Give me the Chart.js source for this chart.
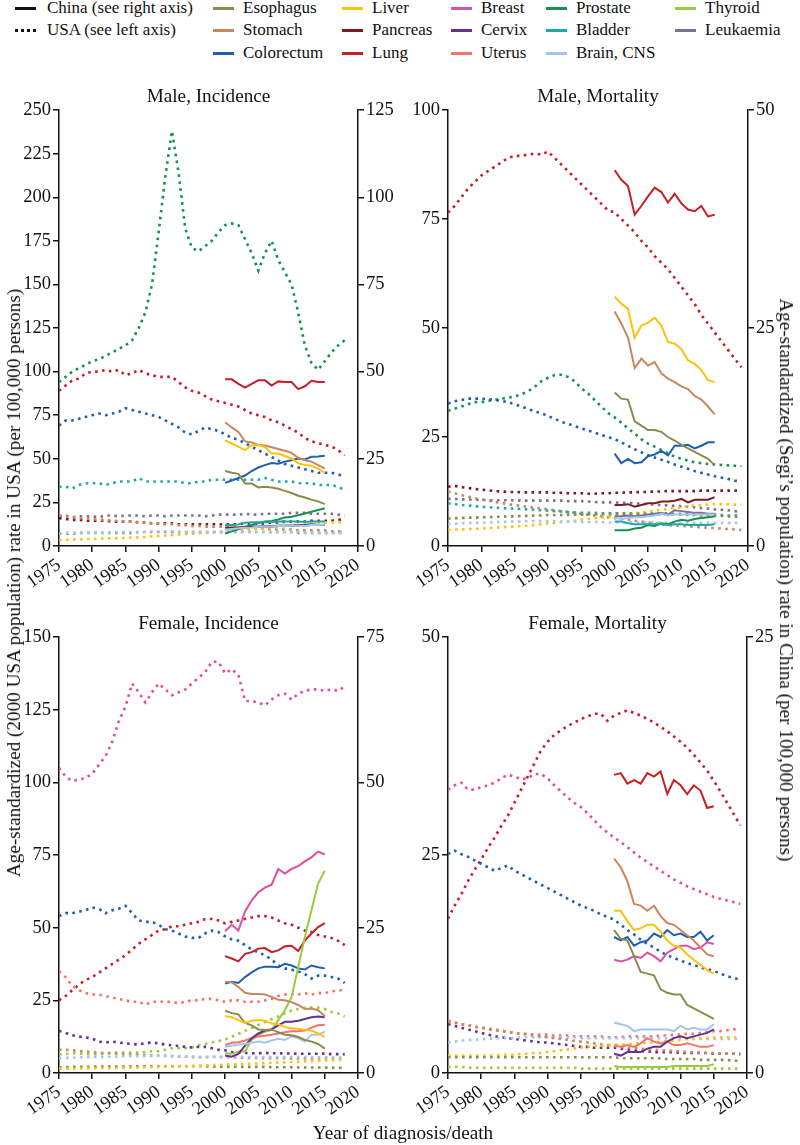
<!DOCTYPE html>
<html>
<head>
<meta charset="utf-8">
<title>Cancer incidence and mortality, China vs USA</title>
<script src="https://cdn.jsdelivr.net/npm/chart.js@4.4.0/dist/chart.umd.min.js"></script>
<style>
  body { margin: 0; background: #fff; }
  #page { position: relative; width: 800px; height: 1145px; overflow: hidden; color: #111; }
  #page canvas { position: absolute; }
  .txt { position: absolute; white-space: nowrap; line-height: 20px; }
  .swatch { position: absolute; height: 3px; width: 21px; }
</style>
</head>
<body>
<div id="page"></div>
<script>
// Year axes
const usaIncYears = [1975, 1976, 1977, 1978, 1979, 1980, 1981, 1982, 1983, 1984, 1985, 1986, 1987, 1988, 1989, 1990, 1991, 1992, 1993, 1994, 1995, 1996, 1997, 1998, 1999, 2000, 2001, 2002, 2003, 2004, 2005, 2006, 2007, 2008, 2009, 2010, 2011, 2012, 2013, 2014, 2015, 2016, 2017, 2018];
const usaMortYears = [1975, 1976, 1977, 1978, 1979, 1980, 1981, 1982, 1983, 1984, 1985, 1986, 1987, 1988, 1989, 1990, 1991, 1992, 1993, 1994, 1995, 1996, 1997, 1998, 1999, 2000, 2001, 2002, 2003, 2004, 2005, 2006, 2007, 2008, 2009, 2010, 2011, 2012, 2013, 2014, 2015, 2016, 2017, 2018, 2019];
const chinaYears = [2000, 2001, 2002, 2003, 2004, 2005, 2006, 2007, 2008, 2009, 2010, 2011, 2012, 2013, 2014, 2015];
const xTicks = [1975, 1980, 1985, 1990, 1995, 2000, 2005, 2010, 2015, 2020];

// ---- Male incidence, USA (left axis)
const maleIncUsaProstate = [94, 97, 100, 102, 104, 106, 107, 109, 111, 113, 115, 118, 125, 134, 150, 180, 212, 238, 214, 182, 171, 169, 172, 175, 180, 184, 185, 184, 176, 168, 158, 168, 175, 164, 157, 150, 134, 115, 105, 101, 106, 111, 115, 118];
const maleIncUsaLung = [89, 92, 95, 96, 99, 100, 100, 101, 100, 101, 98, 99, 101, 99, 98, 97, 97, 97, 94, 91, 89, 88, 86, 84, 83, 82, 81, 80, 78, 76, 75, 74, 72, 71, 69, 67, 65, 62, 60, 59, 58, 57, 55, 52];
const maleIncUsaColorectum = [69, 72, 72, 73, 74, 75, 76, 75, 76, 77, 79, 78, 77, 76, 75, 74, 72, 70, 68, 65, 64, 66, 68, 67, 66, 64, 62, 61, 59, 57, 55, 53, 51, 49, 47, 46, 45, 44, 43, 42, 42, 42, 41, 40];
const maleIncUsaBladder = [34, 34, 33, 35, 36, 36, 36, 35, 36, 37, 37, 37, 39, 37, 37, 37, 37, 37, 37, 36, 36, 37, 37, 38, 38, 38, 38, 38, 38, 38, 38, 39, 38, 37, 37, 37, 36, 36, 36, 35, 35, 35, 34, 32];
const maleIncUsaLeukaemia = [17, 17.5, 16.5, 17, 17, 17, 16.5, 17.5, 17.5, 17, 17.5, 17.5, 17.5, 17, 17.5, 17.5, 17, 17.5, 17.5, 17.5, 17.5, 17.5, 17, 17.5, 18, 18, 18, 18, 18.5, 18, 18, 18.5, 18.5, 18.5, 18.5, 19, 19, 19, 18.5, 18.5, 18.5, 18.5, 18, 17.5];
const maleIncUsaPancreas = [16, 15.5, 15, 15, 14.5, 14.5, 14.5, 14.5, 14, 14, 14, 14, 13.5, 13.5, 13, 13, 13, 13, 12.5, 12.5, 12.5, 12.5, 12.5, 12.5, 12.5, 12.5, 12.5, 12.5, 13, 13, 13, 13, 13.5, 13.5, 14, 14, 14, 14, 14.5, 14.5, 14.5, 14.5, 15, 15.5];
const maleIncUsaStomach = [17.5, 17, 16.5, 16, 16, 15.5, 15, 15, 14.5, 14.5, 14, 14, 13.5, 13.5, 13, 13, 12.5, 12.5, 12, 12, 11.5, 11.5, 11, 11, 11, 11, 10.5, 10.5, 10.5, 10, 10, 10, 9.5, 9.5, 9.5, 9.5, 9, 9, 9, 9, 9, 8.5, 8.5, 8.5];
const maleIncUsaEsophagus = [7, 7, 7, 7.5, 7.5, 7.5, 7.5, 7.5, 7.5, 7.5, 7.5, 7.5, 8, 8, 8, 8, 8, 8, 8, 8, 8, 8, 8, 8, 8, 8, 8, 8, 8, 8, 8, 8, 8, 8, 8, 8, 7.5, 7.5, 7.5, 7.5, 7.5, 7.5, 7.5, 7.5];
const maleIncUsaBrain = [7, 7.5, 7.5, 7.5, 7.5, 7.5, 7.5, 7.5, 8, 8, 8, 8, 8, 8, 8.5, 8.5, 8.5, 8.5, 8, 8, 8, 8, 8, 8, 8, 8, 8, 8, 8, 8, 8, 8, 8, 8, 8, 8, 8, 7.5, 7.5, 7.5, 7.5, 7.5, 7.5, 7.5];
const maleIncUsaLiver = [3.5, 3.5, 3.8, 3.8, 4, 4, 4.2, 4.3, 4.5, 4.5, 4.6, 4.8, 5, 5.2, 5.5, 5.7, 6, 6.3, 6.5, 6.8, 7, 7.3, 7.5, 7.8, 8, 8.3, 8.6, 9, 9.3, 9.6, 10, 10.3, 10.6, 11, 11.3, 11.7, 12, 12.4, 12.8, 13.2, 13.5, 13.6, 13.5, 13.4];

// ---- Male incidence, China (right axis)
const maleIncChinaLung = [47.8, 47.8, 46.5, 45.4, 46.5, 47.5, 47.5, 46, 47.2, 47, 47, 45, 45.8, 47.4, 47, 47];
const maleIncChinaStomach = [35.5, 34, 32.7, 30, 29.7, 29, 28.8, 28.3, 27.8, 27.3, 26.7, 25.3, 24.6, 24.2, 23.2, 22.2];
const maleIncChinaLiver = [30.3, 29.4, 28.5, 27.5, 28.9, 28.9, 28.4, 26.5, 26.5, 25.8, 25.1, 23.7, 23.2, 23, 22.2, 21];
const maleIncChinaColorectum = [18.1, 18.8, 19.5, 20.2, 21.5, 22.5, 23.2, 23.8, 23.6, 24.2, 24.6, 25.1, 24.8, 25.6, 25.7, 25.9];
const maleIncChinaEsophagus = [21.5, 21, 20.7, 17.9, 17.9, 16.8, 17, 16.8, 16.4, 15.8, 15.2, 14.4, 13.9, 13.3, 12.8, 12];
const maleIncChinaProstate = [3.6, 4.2, 4.8, 5.5, 6, 6.6, 7, 7.2, 7.6, 8.2, 8.4, 8.8, 9.3, 9.8, 10.3, 10.8];
const maleIncChinaBladder = [6, 6, 6.2, 6.7, 6.8, 6.8, 6.8, 6.9, 7, 7, 7, 7, 6.9, 7, 7, 7];
const maleIncChinaPancreas = [5.2, 5.3, 5.3, 5.4, 5.5, 5.5, 5.6, 5.6, 5.7, 5.8, 5.8, 5.9, 5.9, 6, 6, 6.1];
const maleIncChinaLeukaemia = [4.9, 5.1, 5.3, 5.4, 5.5, 5.6, 5.6, 5.7, 5.9, 5.8, 5.9, 6, 6, 6.4, 6, 6];
const maleIncChinaBrain = [4.7, 4.9, 5.1, 5.2, 5.3, 5.5, 5.5, 5.6, 5.7, 5.7, 5.8, 5.8, 5.7, 6.1, 6, 6.1];

// ---- Male mortality, USA (left axis)
const maleMortUsaLung = [76.5, 78, 80, 82, 83.5, 85, 86, 87, 88, 89, 89.5, 89.5, 89.8, 90, 89.8, 90.5, 89, 87.5, 86, 84.5, 83, 81.5, 80, 78.5, 77, 76.5, 75, 73.5, 72, 70, 68.5, 66.5, 65, 63.5, 61.5, 59.5, 57.5, 55.5, 53, 51, 49, 47, 45, 43, 41];
const maleMortUsaProstate = [31, 31.5, 32, 32.5, 33, 33, 33.3, 33.5, 33.8, 34, 34.3, 34.8, 35.5, 36.5, 37.8, 38.6, 39.2, 39.3, 38.8, 37.8, 36.2, 35, 33.5, 32, 30.5, 29.5, 28.3, 27, 25.8, 24.5, 23.5, 22.8, 22, 21.2, 20.5, 20, 19.6, 19.2, 19, 18.8, 18.7, 18.6, 18.5, 18.4, 18.3];
const maleMortUsaColorectum = [32.7, 33.2, 33.5, 33.8, 33.8, 33.8, 33.7, 33.5, 33.3, 33, 32.5, 32, 31.5, 30.8, 30.5, 29.8, 29.2, 28.5, 28, 27.5, 27, 26.5, 26, 25.5, 25, 24.5, 23.8, 23, 22.2, 21.5, 20.8, 20.3, 19.8, 19.3, 18.7, 18.2, 17.7, 17.2, 16.8, 16.4, 16, 15.7, 15.4, 15, 14.8];
const maleMortUsaPancreas = [13.6, 13.8, 13.5, 13.3, 13.1, 12.9, 12.8, 12.6, 12.5, 12.4, 12.4, 12.3, 12.3, 12.3, 12.3, 12.3, 12.2, 12.2, 12.1, 12.1, 12.1, 12, 12, 12.1, 12.1, 12.2, 12.2, 12.3, 12.3, 12.4, 12.4, 12.5, 12.5, 12.6, 12.6, 12.6, 12.6, 12.6, 12.7, 12.7, 12.7, 12.7, 12.7, 12.7, 12.7];
const maleMortUsaLeukaemia = [10.8, 10.8, 10.7, 10.7, 10.6, 10.6, 10.5, 10.5, 10.5, 10.5, 10.5, 10.4, 10.4, 10.4, 10.4, 10.4, 10.4, 10.4, 10.3, 10.3, 10.3, 10.2, 10.1, 10, 10, 10, 9.9, 9.9, 9.8, 9.7, 9.6, 9.5, 9.4, 9.3, 9.2, 9.1, 9, 8.9, 8.7, 8.6, 8.4, 8.3, 8.2, 8, 7.8];
const maleMortUsaStomach = [12.5, 12.1, 11.7, 11.3, 11, 10.7, 10.4, 10.1, 9.9, 9.6, 9.4, 9.2, 9, 8.8, 8.6, 8.4, 8.2, 8, 7.8, 7.6, 7.4, 7.2, 7, 6.8, 6.6, 6.4, 6.2, 6, 5.8, 5.6, 5.4, 5.2, 5, 4.8, 4.7, 4.6, 4.5, 4.4, 4.3, 4.2, 4.1, 4, 3.9, 3.8, 3.7];
const maleMortUsaBladder = [9.8, 9.6, 9.4, 9.3, 9.1, 9, 8.9, 8.8, 8.7, 8.6, 8.6, 8.5, 8.4, 8.3, 8.2, 8.1, 8, 7.9, 7.8, 7.7, 7.6, 7.6, 7.6, 7.5, 7.5, 7.5, 7.5, 7.5, 7.5, 7.5, 7.5, 7.5, 7.5, 7.5, 7.4, 7.4, 7.4, 7.3, 7.3, 7.2, 7.2, 7.1, 7, 7, 6.9];
const maleMortUsaEsophagus = [6.3, 6.4, 6.4, 6.5, 6.5, 6.6, 6.6, 6.7, 6.7, 6.8, 6.8, 6.9, 6.9, 7, 7, 7.1, 7.1, 7.1, 7.2, 7.2, 7.2, 7.3, 7.3, 7.3, 7.3, 7.4, 7.4, 7.4, 7.4, 7.4, 7.3, 7.3, 7.3, 7.2, 7.2, 7.2, 7.1, 7.1, 7, 7, 6.9, 6.9, 6.8, 6.7, 6.6];
const maleMortUsaLiver = [3.7, 3.8, 3.8, 3.9, 3.9, 4, 4.1, 4.2, 4.3, 4.4, 4.5, 4.6, 4.7, 4.8, 5, 5.2, 5.3, 5.5, 5.6, 5.8, 6, 6.2, 6.4, 6.5, 6.7, 6.9, 7.1, 7.3, 7.5, 7.7, 7.9, 8.1, 8.3, 8.5, 8.7, 8.9, 9.1, 9.3, 9.4, 9.5, 9.6, 9.6, 9.6, 9.5, 9.5];
const maleMortUsaBrain = [5, 5.1, 5.2, 5.3, 5.3, 5.4, 5.4, 5.5, 5.5, 5.6, 5.6, 5.6, 5.7, 5.7, 5.7, 5.7, 5.7, 5.6, 5.6, 5.6, 5.5, 5.5, 5.5, 5.5, 5.4, 5.4, 5.4, 5.4, 5.4, 5.4, 5.4, 5.4, 5.4, 5.4, 5.4, 5.4, 5.4, 5.3, 5.3, 5.3, 5.3, 5.3, 5.3, 5.3, 5.3];

// ---- Male mortality, China (right axis)
const maleMortChinaLung = [43.1, 42, 41.3, 38, 39, 40.1, 41.1, 40.6, 39.4, 40.4, 39.3, 38.6, 38.4, 39, 37.8, 38];
const maleMortChinaLiver = [28.6, 27.8, 27.2, 23.9, 25.3, 25.6, 26.2, 25.3, 23.4, 23.2, 22.6, 21.3, 20.9, 20.2, 19, 18.8];
const maleMortChinaStomach = [26.9, 25.5, 23.9, 20.4, 21.5, 20.7, 21.1, 19.8, 19.2, 18.8, 18.3, 18, 17.2, 16.8, 16, 15.1];
const maleMortChinaEsophagus = [17.6, 16.9, 16.8, 14.3, 13.8, 13.3, 13.3, 13.1, 12.5, 12.1, 11.6, 11.2, 10.8, 10.4, 10, 9.3];
const maleMortChinaColorectum = [10.6, 9.5, 10, 9.5, 9.6, 10.3, 10.5, 10.9, 10.4, 11.5, 11.5, 11.6, 11.2, 11.5, 11.9, 11.9];
const maleMortChinaPancreas = [4.7, 4.7, 4.8, 4.5, 4.7, 4.9, 4.9, 5.1, 5.1, 5.2, 5.4, 5, 5.3, 5.3, 5.3, 5.6];
const maleMortChinaLeukaemia = [3.4, 3.4, 3.5, 3.4, 3.5, 3.6, 3.7, 3.8, 3.6, 4.1, 4, 3.9, 3.8, 3.8, 3.7, 3.7];
const maleMortChinaBrain = [3.2, 3.1, 3.2, 3.3, 3.3, 3.4, 3.5, 3.7, 3.5, 3.6, 3.6, 3.6, 3.6, 3.6, 3.6, 3.6];
const maleMortChinaBladder = [2.8, 2.8, 2.6, 2.5, 2.5, 2.5, 2.5, 2.5, 2.4, 2.5, 2.5, 2.4, 2.4, 2.4, 2.4, 2.5];
const maleMortChinaProstate = [1.8, 1.8, 1.8, 2, 2.1, 2.4, 2.3, 2.6, 2.5, 2.8, 3, 2.9, 3.1, 3.2, 3.3, 3.4];

// ---- Female incidence, USA (left axis)
const femIncUsaBreast = [105, 102, 100.5, 101, 101.5, 103, 106, 109, 114, 121, 126, 134, 131, 127.5, 131, 134, 132, 130, 131, 132, 134, 136, 138, 141.5, 141.5, 137.5, 139, 137, 128, 128, 127.5, 126.5, 128.5, 130, 130.5, 128.5, 130.5, 131.5, 132, 132, 131.5, 132, 131.5, 133];
const femIncUsaLung = [25, 26.5, 28.5, 30.5, 32, 33, 34.5, 36, 37.5, 39, 40.5, 42.5, 44.5, 46, 47.5, 49, 49.5, 50.5, 50.5, 51, 51.5, 52, 53, 53, 52.5, 51.5, 52, 52.5, 53, 53.5, 54, 54, 53.5, 52.5, 51.5, 51, 50, 49, 48.5, 47.5, 47, 46.5, 45.5, 44];
const femIncUsaColorectum = [54, 55, 55, 55.5, 56, 57, 56.5, 55, 56, 56.5, 57.5, 55, 52.5, 52, 52, 51, 49.5, 49, 48, 47, 46.5, 46.5, 48, 49, 48.5, 47, 46, 45.5, 44, 42.5, 41.5, 40.5, 39, 37, 36, 35.5, 35, 34, 32.5, 33.5, 33.5, 33, 32.5, 31];
const femIncUsaUterus = [35, 33, 30, 28.5, 27.5, 27, 27, 26.5, 26, 25.5, 25, 24.5, 24.5, 23.5, 24.5, 24.5, 24.5, 24.5, 24, 24.5, 25, 25, 25.5, 25.5, 25, 24.5, 25, 25, 24.5, 24.5, 24.5, 25, 25.5, 26.5, 27, 27, 27, 27.5, 27, 27.5, 27.5, 28, 28.5, 28.5];
const femIncUsaThyroid = [6.5, 6.5, 6.8, 6.8, 6.5, 6.5, 6.5, 6.8, 7, 7, 7, 7, 7, 7.2, 7.5, 7.5, 8, 8.5, 8.5, 8.5, 8.8, 9.5, 10, 10.5, 11, 11.5, 12.5, 13.5, 14.5, 15.5, 16.5, 17.5, 18.5, 19.5, 20.5, 21.5, 22, 22.5, 22.5, 22.5, 22, 21, 20.5, 19.5];
const femIncUsaCervix = [14.5, 13.8, 13, 12.5, 12.3, 11.8, 10.8, 10.5, 10.8, 10.5, 10.2, 10, 9.8, 10.3, 10.5, 10.2, 9.8, 9.5, 9.3, 9, 8.8, 9, 9, 8.5, 8, 7.8, 7.2, 7, 6.9, 6.8, 6.8, 6.9, 6.8, 6.8, 6.7, 6.7, 6.6, 6.6, 6.6, 6.6, 6.7, 6.5, 6.5, 6.4];
const femIncUsaStomach = [8, 8, 7.8, 7.6, 7.4, 7.2, 7, 6.8, 6.8, 6.6, 6.5, 6.4, 6.3, 6.2, 6, 6, 5.9, 5.8, 5.7, 5.6, 5.5, 5.4, 5.4, 5.5, 5.5, 5.4, 5.4, 5.3, 5.2, 5.2, 5.2, 5.1, 5.1, 5.1, 5.1, 5, 5, 5, 5, 5, 5, 5, 5, 5];
const femIncUsaBrain = [5, 5.2, 5.2, 5.4, 5.4, 5.5, 5.5, 5.6, 5.6, 5.7, 5.8, 5.8, 5.8, 5.8, 5.9, 5.9, 5.9, 5.8, 5.8, 5.7, 5.7, 5.6, 5.6, 5.6, 5.6, 5.6, 5.6, 5.5, 5.5, 5.5, 5.5, 5.5, 5.5, 5.5, 5.5, 5.5, 5.5, 5.5, 5.4, 5.4, 5.4, 5.4, 5.3, 5.3];
const femIncUsaEsophagus = [2, 2, 2.1, 2.1, 2.1, 2.2, 2.2, 2.2, 2.2, 2.2, 2.2, 2.3, 2.3, 2.3, 2.3, 2.3, 2.3, 2.3, 2.3, 2.3, 2.3, 2.3, 2.3, 2.2, 2.2, 2.2, 2.2, 2.2, 2.1, 2.1, 2.1, 2.1, 2, 2, 2, 2, 1.9, 1.9, 1.9, 1.9, 1.9, 1.8, 1.8, 1.8];
const femIncUsaLiver = [1.5, 1.5, 1.5, 1.6, 1.6, 1.6, 1.7, 1.7, 1.7, 1.8, 1.8, 1.9, 1.9, 2, 2, 2.1, 2.1, 2.2, 2.3, 2.4, 2.5, 2.5, 2.6, 2.7, 2.8, 2.9, 3, 3, 3.1, 3.2, 3.3, 3.4, 3.5, 3.6, 3.7, 3.8, 3.9, 4, 4.1, 4.2, 4.3, 4.4, 4.4, 4.5];

// ---- Female incidence, China (right axis)
const femIncChinaBreast = [24.4, 25.5, 24.5, 27.8, 29.7, 31.1, 31.9, 32.4, 35.1, 34.3, 35.1, 35.6, 36.4, 37.1, 38.1, 37.6];
const femIncChinaThyroid = [3.4, 3.3, 3.7, 3.7, 5.7, 6.5, 7.1, 7.4, 9.1, 10.8, 13.1, 18.2, 23.4, 28, 32.6, 34.8];
const femIncChinaLung = [20.1, 19.7, 19.2, 20.5, 20.8, 21.4, 21.5, 20.8, 21.1, 21.8, 21.9, 21, 22.8, 24, 25.1, 25.8];
const femIncChinaColorectum = [15.4, 15.7, 15.5, 16.5, 17.3, 18, 18.3, 18.3, 18.2, 18.8, 18.5, 18, 17.8, 18.5, 18.2, 18];
const femIncChinaStomach = [15.7, 15.6, 14.8, 13.8, 13.6, 13.6, 13.5, 13.1, 12.6, 12.5, 12.2, 11.7, 11, 11.1, 10.8, 9.8];
const femIncChinaEsophagus = [10.7, 10.3, 10.1, 8.6, 8.2, 7.5, 7.4, 7.5, 7, 6.6, 6.5, 6.2, 5.7, 5.4, 5, 4.2];
const femIncChinaLiver = [9.8, 9.6, 9.1, 8.6, 9, 9.1, 9, 8.5, 8.4, 7.9, 7.7, 7.6, 7.4, 7.3, 6.8, 6.2];
const femIncChinaCervix = [3, 2.8, 3.3, 4.7, 6, 6.8, 7.3, 7.5, 8.2, 8.8, 8.8, 9, 9.3, 9.6, 9.7, 9.6];
const femIncChinaUterus = [4.8, 5.2, 5.3, 5.6, 6, 6.3, 6.4, 6.6, 6.8, 7, 7.2, 7.2, 7.3, 7.8, 8.2, 8.3];
const femIncChinaBrain = [4.5, 4.7, 4.9, 5, 5.2, 5.4, 5.2, 5.6, 5.9, 5.7, 6.3, 6, 5.4, 6.6, 6.6, 7.1];

// ---- Female mortality, USA (left axis)
const femMortUsaLung = [17.7, 19.2, 20.5, 22, 23.3, 24.5, 25.8, 27, 28.3, 29.5, 31, 32.5, 34, 35.5, 37, 38, 38.8, 39.3, 39.8, 40.2, 40.6, 40.9, 41.2, 41.2, 40.4, 41, 41.3, 41.6, 41.3, 41, 40.6, 40.2, 39.7, 39.2, 38.6, 38, 37.3, 36.5, 35.6, 34.7, 33.5, 32.3, 31, 29.7, 28.4];
const femMortUsaBreast = [32.5, 33, 33.3, 32.5, 32.5, 32.8, 33, 33.3, 33.8, 34.2, 34, 33.7, 33.8, 34.3, 34.3, 33.8, 33, 32.3, 31.6, 31, 30.5, 29.8, 29, 28.2, 27.6, 27, 26.5, 25.9, 25.3, 24.7, 24.2, 23.7, 23.2, 22.7, 22.2, 21.8, 21.4, 21.1, 20.8, 20.5, 20.2, 20, 19.8, 19.6, 19.4];
const femMortUsaColorectum = [25.1, 25.5, 25.1, 24.8, 24.4, 24, 23.6, 23.2, 23.5, 23.8, 23.2, 22.8, 22.4, 22, 21.6, 21.2, 20.8, 20.4, 20, 19.6, 19.2, 18.9, 18.6, 18.2, 17.9, 17.6, 17, 16.4, 15.9, 15.3, 14.8, 14.4, 13.9, 13.5, 13.2, 12.9, 12.6, 12.4, 12.1, 11.9, 11.7, 11.4, 11.1, 10.9, 10.7];
const femMortUsaUterus = [5.9, 5.8, 5.6, 5.5, 5.3, 5.2, 5, 4.9, 4.8, 4.7, 4.6, 4.5, 4.5, 4.4, 4.4, 4.4, 4.3, 4.3, 4.3, 4.2, 4.2, 4.2, 4.2, 4.2, 4.1, 4.1, 4.1, 4.2, 4.2, 4.2, 4.2, 4.2, 4.3, 4.3, 4.4, 4.4, 4.5, 4.5, 4.6, 4.7, 4.8, 4.8, 4.9, 5, 5];
const femMortUsaCervix = [5.6, 5.4, 5.2, 5, 4.8, 4.6, 4.4, 4.2, 4.1, 4, 3.9, 3.8, 3.7, 3.6, 3.5, 3.5, 3.4, 3.3, 3.2, 3.1, 3, 3, 2.9, 2.9, 2.9, 2.9, 2.8, 2.7, 2.6, 2.5, 2.5, 2.4, 2.4, 2.4, 2.4, 2.3, 2.3, 2.3, 2.3, 2.3, 2.2, 2.2, 2.2, 2.2, 2.2];
const femMortUsaStomach = [6, 5.8, 5.6, 5.5, 5.3, 5.2, 5.1, 5, 4.9, 4.7, 4.6, 4.5, 4.4, 4.3, 4.2, 4.1, 4, 3.9, 3.8, 3.7, 3.6, 3.5, 3.4, 3.3, 3.2, 3.1, 3, 2.9, 2.9, 2.8, 2.7, 2.7, 2.6, 2.6, 2.5, 2.5, 2.4, 2.4, 2.3, 2.3, 2.3, 2.2, 2.2, 2.2, 2.1];
const femMortUsaBrain = [3.5, 3.6, 3.7, 3.8, 3.8, 3.9, 3.9, 4, 4, 4, 4, 4.1, 4.1, 4.1, 4.1, 4.1, 4.1, 4.1, 4.1, 4.1, 4, 4, 4, 4, 4, 4, 4, 4, 4, 4, 4, 4, 4, 4, 4, 4, 3.9, 3.9, 3.9, 3.9, 3.9, 3.9, 3.9, 3.9, 3.9];
const femMortUsaLiver = [2, 2, 2, 2, 2, 2, 2, 2, 2.1, 2.1, 2.1, 2.2, 2.2, 2.3, 2.3, 2.4, 2.5, 2.6, 2.7, 2.8, 2.9, 3, 3.1, 3.1, 3.2, 3.2, 3.3, 3.3, 3.4, 3.4, 3.5, 3.5, 3.6, 3.7, 3.7, 3.8, 3.9, 3.9, 4, 4, 4.1, 4.1, 4.1, 4.1, 4.1];
const femMortUsaEsophagus = [1.8, 1.8, 1.8, 1.8, 1.8, 1.8, 1.8, 1.8, 1.8, 1.8, 1.8, 1.8, 1.8, 1.8, 1.8, 1.8, 1.8, 1.8, 1.8, 1.8, 1.8, 1.8, 1.8, 1.8, 1.8, 1.8, 1.7, 1.7, 1.7, 1.7, 1.7, 1.7, 1.7, 1.6, 1.6, 1.6, 1.6, 1.6, 1.5, 1.5, 1.5, 1.5, 1.5, 1.4, 1.4];
const femMortUsaThyroid = [0.7, 0.7, 0.7, 0.6, 0.6, 0.6, 0.6, 0.6, 0.6, 0.6, 0.6, 0.6, 0.6, 0.6, 0.6, 0.6, 0.6, 0.6, 0.6, 0.6, 0.5, 0.5, 0.5, 0.5, 0.5, 0.5, 0.5, 0.5, 0.5, 0.5, 0.5, 0.5, 0.5, 0.5, 0.5, 0.5, 0.5, 0.5, 0.5, 0.5, 0.5, 0.5, 0.5, 0.5, 0.5];

// ---- Female mortality, China (right axis)
const femMortChinaLung = [17.1, 17.2, 16.6, 16.8, 16.6, 17.2, 17, 17.3, 16, 16.8, 16.5, 16, 16.5, 16.2, 15.2, 15.3];
const femMortChinaStomach = [12.3, 11.8, 11, 9.7, 9.6, 9.3, 9.6, 9, 8.6, 8.5, 8.2, 7.9, 7.6, 7.2, 6.8, 6.7];
const femMortChinaLiver = [9.3, 9.3, 8.7, 8.2, 8.3, 8.5, 8.5, 8.1, 7.6, 7.3, 7.2, 6.8, 6.5, 6.2, 5.9, 5.7];
const femMortChinaColorectum = [7.8, 7.6, 7.8, 7.3, 7.5, 7.6, 8, 7.8, 8.2, 7.9, 8, 7.8, 7.8, 8.1, 7.6, 7.9];
const femMortChinaBreast = [6.5, 6.4, 6.5, 6.7, 6.6, 6.9, 6.7, 6.4, 6.9, 7.1, 7.3, 7.3, 7.1, 7.2, 7.5, 7.4];
const femMortChinaEsophagus = [8.2, 7.7, 7.6, 6.7, 5.8, 5.7, 5.6, 4.8, 4.6, 4.5, 4.5, 3.9, 3.7, 3.5, 3.3, 3.1];
const femMortChinaBrain = [2.9, 2.8, 2.7, 2.4, 2.5, 2.5, 2.5, 2.5, 2.5, 2.4, 2.7, 2.5, 2.6, 2.5, 2.5, 2.8];
const femMortChinaUterus = [1.6, 1.5, 1.6, 1.5, 1.7, 2, 1.8, 1.7, 1.8, 1.6, 1.6, 1.7, 1.6, 1.5, 1.5, 1.6];
const femMortChinaCervix = [1.1, 1, 1.2, 1.2, 1.2, 1.4, 1.5, 1.5, 1.8, 2, 2.1, 2, 2.1, 2.2, 2.3, 2.5];
const femMortChinaThyroid = [0.4, 0.35, 0.35, 0.35, 0.35, 0.35, 0.35, 0.35, 0.35, 0.4, 0.4, 0.4, 0.4, 0.4, 0.4, 0.5];

// Legend layout (columns of cancer sites)
const legendColumns = [
    ['Esophagus', 'Stomach', 'Colorectum'],
    ['Liver', 'Pancreas', 'Lung'],
    ['Breast', 'Cervix', 'Uterus'],
    ['Prostate', 'Bladder', 'Brain, CNS'],
    ['Thyroid', 'Leukaemia']
];

const siteColors = {
    'Esophagus': '#8b8a4f',
    'Stomach': '#c8875f',
    'Colorectum': '#1e5fb0',
    'Liver': '#fdc20c',
    'Pancreas': '#7d1a22',
    'Lung': '#c42026',
    'Breast': '#dd4fa1',
    'Cervix': '#6a2e90',
    'Uterus': '#f4736d',
    'Prostate': '#13924b',
    'Bladder': '#1ea9a5',
    'Brain, CNS': '#a3c6ee',
    'Thyroid': '#9acb3d',
    'Leukaemia': '#7f7091'
};

const FONT = "'Liberation Serif', serif";
const INK = '#111';
const AXIS_L = 59, AXIS_R = 45, PAD_T = 12, AXIS_B = 64, PLOT_H = 437;
const TITLE_SIZE = 19.2;

const panels = [
    {
        title: 'Male, Incidence', left: 59, top: 109, plotW: 299, leftMax: 250, rightMax: 125, usaYears: usaIncYears,
        series: [
            ['Bladder', maleIncUsaBladder, maleIncChinaBladder],
            ['Brain, CNS', maleIncUsaBrain, maleIncChinaBrain],
            ['Esophagus', maleIncUsaEsophagus, maleIncChinaEsophagus],
            ['Liver', maleIncUsaLiver, maleIncChinaLiver],
            ['Stomach', maleIncUsaStomach, maleIncChinaStomach],
            ['Pancreas', maleIncUsaPancreas, maleIncChinaPancreas],
            ['Leukaemia', maleIncUsaLeukaemia, maleIncChinaLeukaemia],
            ['Colorectum', maleIncUsaColorectum, maleIncChinaColorectum],
            ['Lung', maleIncUsaLung, maleIncChinaLung],
            ['Prostate', maleIncUsaProstate, maleIncChinaProstate]
        ]
    },
    {
        title: 'Male, Mortality', left: 448, top: 109, plotW: 300, leftMax: 100, rightMax: 50, usaYears: usaMortYears,
        series: [
            ['Brain, CNS', maleMortUsaBrain, maleMortChinaBrain],
            ['Esophagus', maleMortUsaEsophagus, maleMortChinaEsophagus],
            ['Liver', maleMortUsaLiver, maleMortChinaLiver],
            ['Bladder', maleMortUsaBladder, maleMortChinaBladder],
            ['Stomach', maleMortUsaStomach, maleMortChinaStomach],
            ['Leukaemia', maleMortUsaLeukaemia, maleMortChinaLeukaemia],
            ['Pancreas', maleMortUsaPancreas, maleMortChinaPancreas],
            ['Colorectum', maleMortUsaColorectum, maleMortChinaColorectum],
            ['Prostate', maleMortUsaProstate, maleMortChinaProstate],
            ['Lung', maleMortUsaLung, maleMortChinaLung]
        ]
    },
    {
        title: 'Female, Incidence', left: 59, top: 636, plotW: 299, leftMax: 150, rightMax: 75, usaYears: usaIncYears,
        series: [
            ['Liver', femIncUsaLiver, femIncChinaLiver],
            ['Esophagus', femIncUsaEsophagus, femIncChinaEsophagus],
            ['Brain, CNS', femIncUsaBrain, femIncChinaBrain],
            ['Stomach', femIncUsaStomach, femIncChinaStomach],
            ['Cervix', femIncUsaCervix, femIncChinaCervix],
            ['Uterus', femIncUsaUterus, femIncChinaUterus],
            ['Thyroid', femIncUsaThyroid, femIncChinaThyroid],
            ['Colorectum', femIncUsaColorectum, femIncChinaColorectum],
            ['Lung', femIncUsaLung, femIncChinaLung],
            ['Breast', femIncUsaBreast, femIncChinaBreast]
        ]
    },
    {
        title: 'Female, Mortality', left: 448, top: 636, plotW: 299, leftMax: 50, rightMax: 25, usaYears: usaMortYears,
        series: [
            ['Thyroid', femMortUsaThyroid, femMortChinaThyroid],
            ['Esophagus', femMortUsaEsophagus, femMortChinaEsophagus],
            ['Liver', femMortUsaLiver, femMortChinaLiver],
            ['Stomach', femMortUsaStomach, femMortChinaStomach],
            ['Brain, CNS', femMortUsaBrain, femMortChinaBrain],
            ['Cervix', femMortUsaCervix, femMortChinaCervix],
            ['Uterus', femMortUsaUterus, femMortChinaUterus],
            ['Colorectum', femMortUsaColorectum, femMortChinaColorectum],
            ['Breast', femMortUsaBreast, femMortChinaBreast],
            ['Lung', femMortUsaLung, femMortChinaLung]
        ]
    }
];

const page = document.getElementById('page');

document.addEventListener('DOMContentLoaded', () => {
    Chart.defaults.font.family = FONT;
    buildLegend();
    panels.forEach(drawPanel);
    addAxisTitles();
});

function addText(text, size, left, top) {
    const el = document.createElement('div');
    el.className = 'txt';
    el.textContent = text;
    el.style.fontFamily = FONT;
    el.style.fontSize = size + 'px';
    el.style.left = left + 'px';
    el.style.top = top + 'px';
    page.appendChild(el);
    return el;
}

function addSwatch(left, centerY, background) {
    const sw = document.createElement('div');
    sw.className = 'swatch';
    sw.style.left = left + 'px';
    sw.style.top = (centerY - 1.5) + 'px';
    sw.style.background = background;
    page.appendChild(sw);
}

// Legend at the top of the page
function buildLegend() {
    const rowY = [8, 30, 53];
    addSwatch(15, rowY[0], INK);
    addText('China (see right axis)', 17, 47, rowY[0] - 10);
    addSwatch(15, rowY[1], `repeating-linear-gradient(to right, ${INK} 0 3px, transparent 3px 6px)`);
    addText('USA (see left axis)', 17, 47, rowY[1] - 10);

    const colX = [213, 342, 451, 546, 675];
    legendColumns.forEach((names, c) => {
        names.forEach((name, r) => {
            addSwatch(colX[c], rowY[r], siteColors[name]);
            addText(name, 17, colX[c] + 30, rowY[r] - 10);
        });
    });
}

function toPoints(years, values) {
    return values.map((v, i) => ({ x: years[i], y: v }));
}

function axisLook(ticks) {
    return {
        grid: { drawOnChartArea: false, drawTicks: true, tickLength: 6, color: INK, lineWidth: 1.5 },
        border: { display: true, color: INK, width: 1.5 },
        ticks: Object.assign({ color: INK, font: { family: FONT, size: 18.5 }, padding: 2 }, ticks)
    };
}

// One panel = one canvas with a left (USA) and a right (China) axis
function drawPanel(p) {
    const canvas = document.createElement('canvas');
    const w = AXIS_L + p.plotW + AXIS_R;
    const h = PAD_T + PLOT_H + AXIS_B;
    canvas.width = w;
    canvas.height = h;
    canvas.style.left = (p.left - AXIS_L) + 'px';
    canvas.style.top = (p.top - PAD_T) + 'px';
    page.appendChild(canvas);

    const title = addText(p.title, TITLE_SIZE, p.left + p.plotW / 2, p.top - 23);
    title.style.transform = 'translateX(-50%)';

    const datasets = [];
    p.series.forEach(([name, usa, china]) => {
        datasets.push({
            label: name + ' (USA)',
            data: toPoints(p.usaYears, usa),
            yAxisID: 'yL',
            borderColor: siteColors[name],
            borderWidth: 2.6,
            borderDash: [2.6, 4.4],
            borderCapStyle: 'butt',
            pointRadius: 0,
            tension: 0,
            fill: false,
            order: 2
        });
        datasets.push({
            label: name + ' (China)',
            data: toPoints(chinaYears, china),
            yAxisID: 'yR',
            borderColor: siteColors[name],
            borderWidth: 2,
            pointRadius: 0,
            tension: 0,
            fill: false,
            order: 1
        });
    });

    const xAxis = axisLook({
        autoSkip: false,
        maxRotation: 35,
        minRotation: 35,
        callback: v => String(v)
    });
    xAxis.type = 'linear';
    xAxis.min = xTicks[0];
    xAxis.max = xTicks[xTicks.length - 1];
    xAxis.afterBuildTicks = scale => { scale.ticks = xTicks.map(v => ({ value: v })); };
    xAxis.afterFit = scale => { scale.height = AXIS_B; };

    const yLeft = axisLook({ stepSize: 25, callback: v => String(v) });
    yLeft.position = 'left';
    yLeft.min = 0;
    yLeft.max = p.leftMax;
    yLeft.afterFit = scale => { scale.width = AXIS_L; };

    const yRight = axisLook({ stepSize: 25, callback: v => String(v) });
    yRight.position = 'right';
    yRight.min = 0;
    yRight.max = p.rightMax;
    yRight.afterFit = scale => { scale.width = AXIS_R; };

    new Chart(canvas.getContext('2d'), {
        type: 'line',
        data: { datasets },
        options: {
            responsive: false,
            animation: false,
            devicePixelRatio: 1,
            layout: { padding: { top: PAD_T, left: 0, right: 0, bottom: 0 } },
            plugins: { legend: { display: false }, tooltip: { enabled: false } },
            scales: { x: xAxis, yL: yLeft, yR: yRight }
        }
    });
}

// Shared axis titles
function addAxisTitles() {
    const left = addText('Age-standardized (2000 USA population) rate in USA (per 100,000 persons)', TITLE_SIZE, 14, 583);
    left.style.transform = 'translate(-50%, -50%) rotate(-90deg)';
    const right = addText('Age-standardized (Segi\u2019s population) rate in China (per 100,000 persons)', TITLE_SIZE, 786, 580);
    right.style.transform = 'translate(-50%, -50%) rotate(90deg)';
    const bottom = addText('Year of diagnosis/death', TITLE_SIZE, 403, 1133);
    bottom.style.transform = 'translate(-50%, -50%)';
}
</script>
</body>
</html>
